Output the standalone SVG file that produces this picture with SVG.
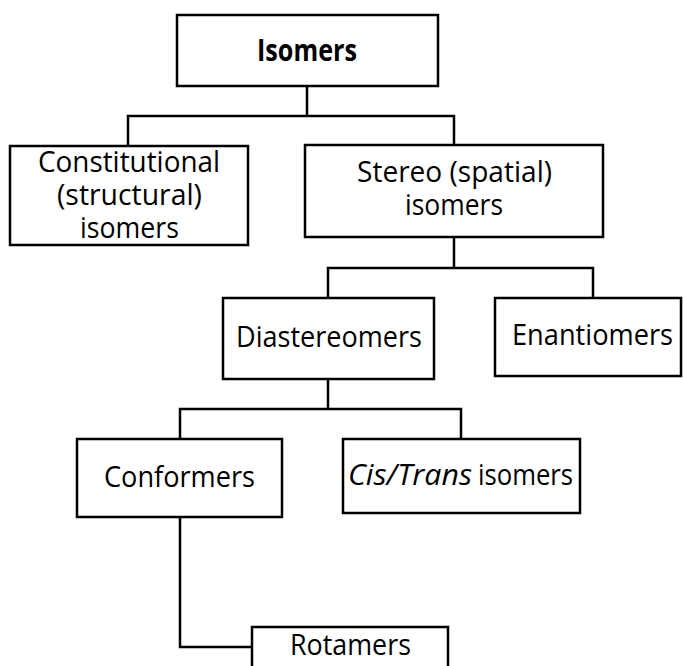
<svg xmlns="http://www.w3.org/2000/svg" width="683" height="666" viewBox="0 0 683 666">
<style>
  .box { fill: #ffffff; stroke: #000000; stroke-width: 2.5; }
  .conn { fill: none; stroke: #000000; stroke-width: 2.5; stroke-linejoin: miter; }
  .lbl { font-family: "Open Sans", "Liberation Sans", sans-serif; font-size: 28.5px; fill: #000000; }
  .c { text-anchor: middle; }
  .bold { font-weight: bold; font-size: 30px; }
  .it { font-style: italic; }
</style>
<rect width="683" height="666" fill="#ffffff"/>
<g id="connectors">
  <path class="conn" d="M307,86 V116"/>
  <path class="conn" d="M128,146 V116 H454 V145"/>
  <path class="conn" d="M454,237 V268"/>
  <path class="conn" d="M328,298 V268 H593 V298"/>
  <path class="conn" d="M328,379 V409"/>
  <path class="conn" d="M180,439 V409 H461 V439"/>
  <path class="conn" d="M180,517 V647 H252"/>
</g>
<g id="isomers">
  <rect class="box" x="177" y="15" width="261" height="71"/>
  <text class="lbl c bold" x="307" y="61" textLength="100" lengthAdjust="spacingAndGlyphs">Isomers</text>
</g>
<g id="constitutional">
  <rect class="box" x="10" y="146" width="238" height="99"/>
  <text class="lbl c" x="129" y="172" textLength="182" lengthAdjust="spacingAndGlyphs">Constitutional</text>
  <text class="lbl c" x="129.5" y="205" textLength="145" lengthAdjust="spacingAndGlyphs">(structural)</text>
  <text class="lbl c" x="129.5" y="238" textLength="99" lengthAdjust="spacingAndGlyphs">isomers</text>
</g>
<g id="stereo">
  <rect class="box" x="305" y="145" width="298" height="92"/>
  <text class="lbl c" x="454.5" y="182" textLength="195" lengthAdjust="spacingAndGlyphs">Stereo (spatial)</text>
  <text class="lbl c" x="454" y="215" textLength="98" lengthAdjust="spacingAndGlyphs">isomers</text>
</g>
<g id="diastereomers">
  <rect class="box" x="223" y="298" width="211" height="81"/>
  <text class="lbl c" x="329" y="347" textLength="186" lengthAdjust="spacingAndGlyphs">Diastereomers</text>
</g>
<g id="enantiomers">
  <rect class="box" x="495" y="298" width="186" height="78"/>
  <text class="lbl c" x="592.5" y="345" textLength="161" lengthAdjust="spacingAndGlyphs">Enantiomers</text>
</g>
<g id="conformers">
  <rect class="box" x="77" y="439" width="205" height="78"/>
  <text class="lbl c" x="179.5" y="487" textLength="151" lengthAdjust="spacingAndGlyphs">Conformers</text>
</g>
<g id="cistrans">
  <rect class="box" x="343" y="439" width="237" height="74"/>
  <text class="lbl" y="485"><tspan class="it" x="348" textLength="124" lengthAdjust="spacingAndGlyphs">Cis/Trans</tspan><tspan x="478" textLength="95" lengthAdjust="spacingAndGlyphs">isomers</tspan></text>
</g>
<g id="rotamers">
  <rect class="box" x="252" y="627" width="196" height="50"/>
  <text class="lbl c" x="350.5" y="655" textLength="121" lengthAdjust="spacingAndGlyphs">Rotamers</text>
</g>
</svg>
